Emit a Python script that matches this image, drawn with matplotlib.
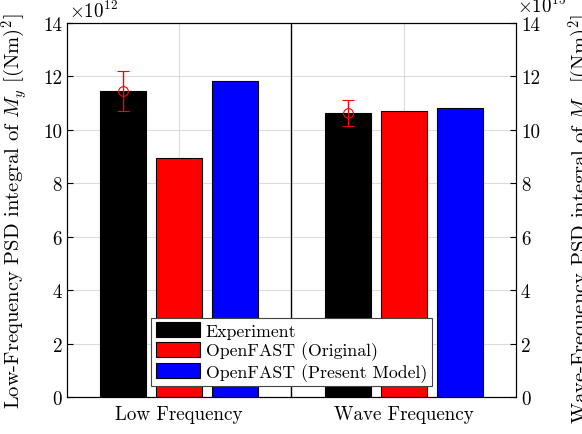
import numpy as np
import matplotlib
matplotlib.use("Agg")
import matplotlib.pyplot as plt
from matplotlib.patches import Patch

plt.rcParams['font.family'] = 'serif'
plt.rcParams['font.serif'] = ['cmr10', 'DejaVu Serif']
plt.rcParams['mathtext.fontset'] = 'cm'
plt.rcParams['axes.unicode_minus'] = False
plt.rcParams['font.size'] = 13.7

# data (left axis in 1e12, right axis in 1e15)
categories = ['Low Frequency', 'Wave Frequency']
series = ['Experiment', 'OpenFAST (Original)', 'OpenFAST (Present Model)']
colors = ['black', 'red', 'blue']
low_vals = [11.46, 8.95, 11.82]
low_err = 0.75
wave_vals = [10.63, 10.70, 10.82]
wave_err = 0.48

fig = plt.figure(figsize=(5.82, 4.35), dpi=100)
ax = fig.add_axes([0.1151, 0.0851, 0.7715, 0.8598])
ax2 = ax.twinx()

offsets = np.array([-0.25, 0.0, 0.25])
width = 0.205

ax.bar(1 + offsets, low_vals, width, color=colors, edgecolor='black', linewidth=0.8, zorder=2)
ax.errorbar(1 + offsets[0], low_vals[0], yerr=low_err, fmt='o', mfc='none', mec='red',
            ecolor='red', ms=7, capsize=4, elinewidth=1, mew=0.8, zorder=3)
ax2.bar(2 + offsets, wave_vals, width, color=colors, edgecolor='black', linewidth=0.8, zorder=2)
ax2.errorbar(2 + offsets[0], wave_vals[0], yerr=wave_err, fmt='o', mfc='none', mec='red',
             ecolor='red', ms=7, capsize=4, elinewidth=1, mew=0.8, zorder=3)

ax.axvline(1.5, color='black', lw=1, zorder=4)

for a in (ax, ax2):
    a.set_ylim(0, 14)
    a.set_yticks(np.arange(0, 15, 2))
    a.tick_params(direction='in', length=4, width=0.8)
ax.set_xlim(0.5, 2.5)
ax.set_xticks([1, 2])
ax.set_xticklabels(categories)
ax.tick_params(axis='x', pad=6)

ax.grid(True, color='#dcdcdc', lw=0.8)
ax.set_axisbelow(True)

ax.set_ylabel(r'Low-Frequency PSD integral of $M_y$ [(Nm)$^2$]', fontsize=14.8)
ax.yaxis.set_label_coords(-0.083, 0.5)
ax2.set_ylabel(r'Wave-Frequency PSD integral of $M_x$ [(Nm)$^2$]', fontsize=14.8)
ax2.yaxis.set_label_coords(1.112, 0.48)

ax.text(0.005, 1.006, r'$\times10^{12}$', transform=ax.transAxes, ha='left', va='bottom')
ax2.text(1.003, 1.018, r'$\times10^{15}$', transform=ax2.transAxes, ha='left', va='bottom')

handles = [Patch(facecolor=c, edgecolor='black', lw=0.8) for c in colors]
leg = ax2.legend(handles, series, loc='lower center', bbox_to_anchor=(0.5, 0.029),
                 borderaxespad=0, fancybox=False, framealpha=1, edgecolor='#444444',
                 handlelength=2.5, handleheight=0.9, handletextpad=0.3,
                 labelspacing=0.15, borderpad=0.25, fontsize=12.8)
leg.get_frame().set_linewidth(0.8)

fig.savefig('out.png', dpi=100)
